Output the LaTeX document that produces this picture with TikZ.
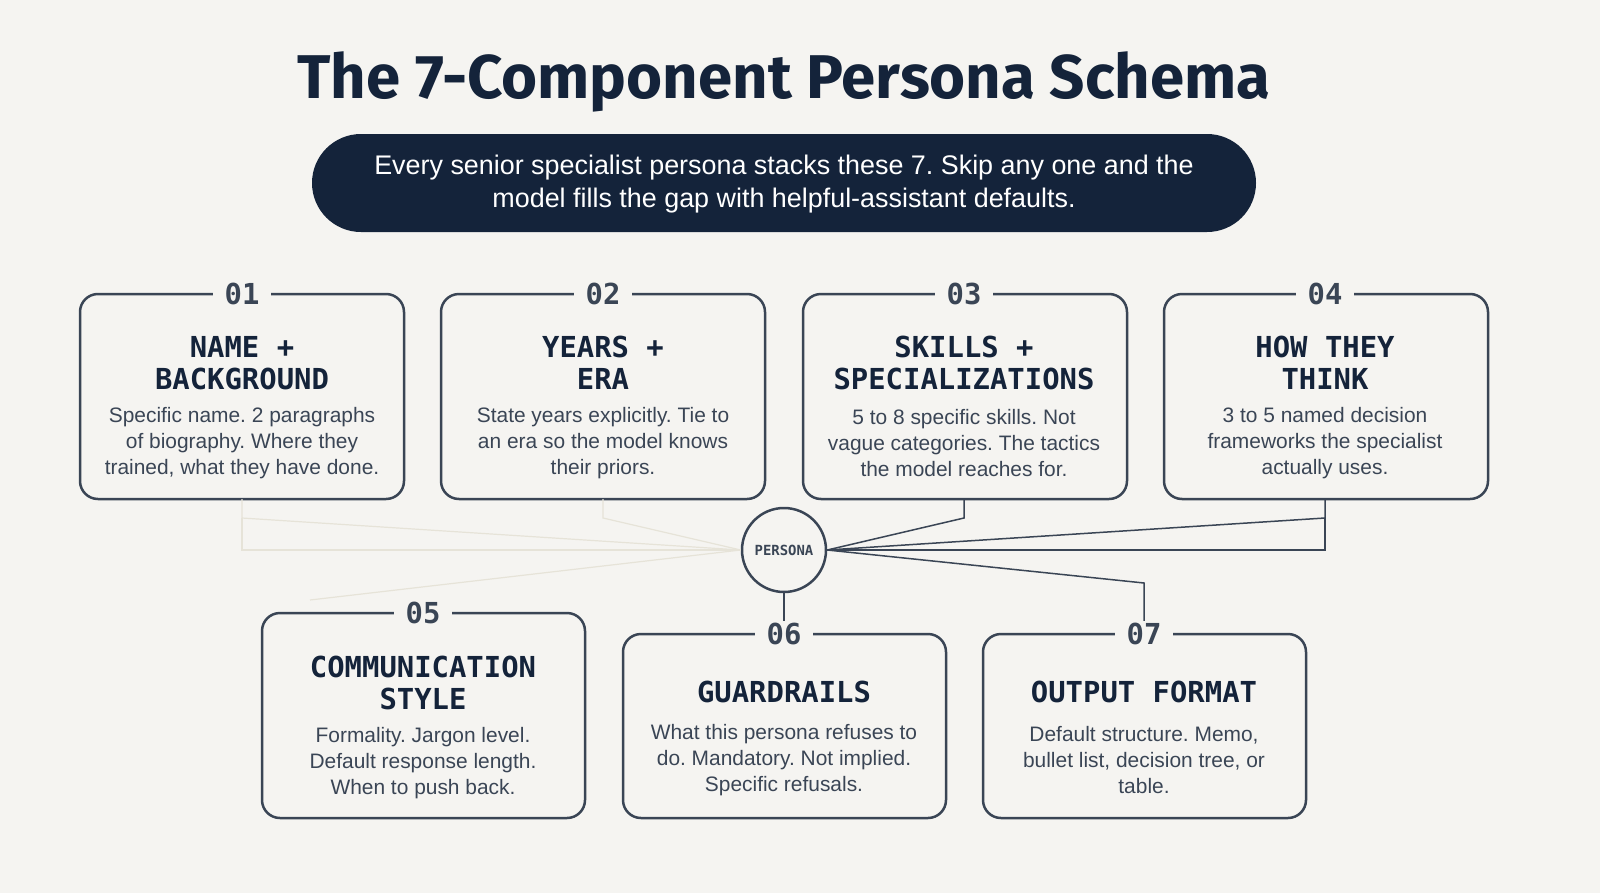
\documentclass[tikz,border=0pt]{standalone}
\usepackage{fontspec}
\setmainfont{Liberation Sans}
\newfontfamily\headfont{DejaVu Sans Mono}
\newfontfamily\titlefont{Fira Sans}
\usetikzlibrary{positioning}
\definecolor{bgcol}{HTML}{F5F4F1}
\definecolor{ink}{HTML}{3A4555}
\definecolor{navy}{HTML}{14233A}
\definecolor{faint}{HTML}{E6E3D8}
\frenchspacing
\begin{document}
\begin{tikzpicture}[x=1bp, y=-1bp,
  card/.style={draw=ink, line width=2.5bp, rounded corners=18bp, fill=bgcol},
  num/.style={fill=bgcol, inner xsep=12bp, inner ysep=2bp, font=\headfont\bfseries\fontsize{29}{30}\selectfont, text=ink},
  head/.style={font=\headfont\bfseries\fontsize{29}{32}\selectfont, text=navy, align=center},
  body/.style={font=\fontsize{21}{26}\selectfont, text=ink, align=center},
  link/.style={draw=ink, line width=1.5bp},
  ghost/.style={draw=faint, line width=1.2bp}]
% Hintergrund
\fill[bgcol] (0,0) rectangle (1600,893);
\useasboundingbox (0,0) rectangle (1600,893);

% Titel
\node (title) at (784,82) {\titlefont\bfseries\fontsize{62}{64}\selectfont\color{navy}The 7-Component Persona Schema};
\fill[navy, rounded corners=49bp] (312,134) rectangle (1256,232);
\node[align=center, text=white, font=\fontsize{27}{34}\selectfont] (sub) at (784,184)
  {Every senior specialist persona stacks these 7. Skip any one and the\\model fills the gap with helpful-assistant defaults.};

% Verbindungen
\node[circle, draw=ink, line width=2.5bp, fill=bgcol, minimum size=84bp, inner sep=0pt,
  font=\headfont\bfseries\fontsize{14}{14}\selectfont, text=ink] (P) at (784,550) {PERSONA};
\coordinate (c1) at (242,518);
\coordinate (c2) at (603,518);
\coordinate (c3) at (964,518);
\coordinate (c4) at (1325,518);
\coordinate (c4b) at (1325,550);
\coordinate (c5) at (310,600);
\coordinate (c7) at (1144,583);

% Karten, obere Reihe
\draw[card] (80,294) rectangle (404,499);
\draw[card] (441,294) rectangle (765,499);
\draw[card] (803,294) rectangle (1127,499);
\draw[card] (1164,294) rectangle (1488,499);
% Karten, untere Reihe
\draw[card] (262,613) rectangle (585,818);
\draw[card] (623,634) rectangle (946,818);
\draw[card] (983,634) rectangle (1306,818);

\coordinate (t1) at (242,499);
\coordinate (t2) at (603,499);
\coordinate (t3) at (964,499);
\coordinate (t4) at (1325,499);
\coordinate (t6) at (784,634);
\coordinate (t7) at (1144,634);

\draw[ghost] (t1) -- (c1) -- (P.west);
\draw[ghost] (c1) |- (P.west);
\draw[ghost] (t2) -- (c2) -- (P.west);
\draw[ghost] (c5) -- (P.west);
\draw[link] (t3) -- (c3) -- (P.east);
\draw[link] (t4) -- (c4) -- (P.east);
\draw[link] (c4) -- (c4b) -- (P.east);
\draw[link] (t7) -- (c7) -- (P.east);
\draw[link] (t6) -- (P.south);

% Nummern
\node[num] (n1) at (242,294) {01};
\node[num] (n2) at (603,294) {02};
\node[num] (n3) at (964,294) {03};
\node[num] (n4) at (1325,294) {04};
\node[num] (n5) at (423,613) {05};
\node[num] (n6) at (784,634) {06};
\node[num] (n7) at (1144,634) {07};

% Texte
\node[head] (h1) at (242,363) {NAME +\\BACKGROUND};
\node[body] (d1) at (242,443) {Specific name. 2 paragraphs\\of biography. Where they\\trained, what they have done.};
\node[head] (h2) at (603,363) {YEARS +\\ERA};
\node[body] (d2) at (603,443) {State years explicitly. Tie to\\an era so the model knows\\their priors.};
\node[head] (h3) at (964,363) {SKILLS +\\SPECIALIZATIONS};
\node[body] (d3) at (964,443) {5 to 8 specific skills. Not\\vague categories. The tactics\\the model reaches for.};
\node[head] (h4) at (1325,363) {HOW THEY\\THINK};
\node[body] (d4) at (1325,443) {3 to 5 named decision\\frameworks the specialist\\actually uses.};
\node[head] (h5) at (423,683) {COMMUNICATION\\STYLE};
\node[body] (d5) at (423,763) {Formality. Jargon level.\\Default response length.\\When to push back.};
\node[head] (h6) at (784,692) {GUARDRAILS};
\node[body] (d6) at (784,760) {What this persona refuses to\\do. Mandatory. Not implied.\\Specific refusals.};
\node[head] (h7) at (1144,692) {OUTPUT FORMAT};
\node[body] (d7) at (1144,760) {Default structure. Memo,\\bullet list, decision tree, or\\table.};
\end{tikzpicture}
\end{document}
